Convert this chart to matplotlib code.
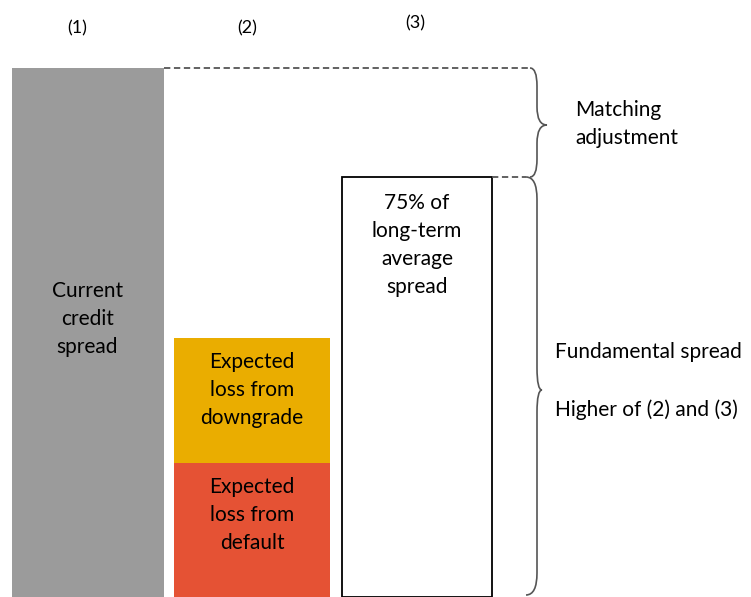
import matplotlib
matplotlib.use("Agg")
import matplotlib.pyplot as plt
from matplotlib.path import Path
from matplotlib.patches import PathPatch

plt.rcParams['font.family'] = ['Lato', 'DejaVu Sans']

# data (arbitrary spread units)
col_labels = ['(1)', '(2)', '(3)']
current_spread = 5.29
loss_default = 1.34
loss_downgrade = 1.25
lta_spread = 4.20

bar_text_1 = 'Current\ncredit\nspread'
bar_text_default = 'Expected\nloss from\ndefault'
bar_text_downgrade = 'Expected\nloss from\ndowngrade'
bar_text_3 = '75% of\nlong-term\naverage\nspread'

fig = plt.figure(figsize=(7.51, 5.97), dpi=100)
ax = fig.add_axes([0, 0, 1, 1])
ax.set_xlim(0, 7.51)
ax.set_ylim(0, 5.97)
ax.axis('off')

xpos = [0.875, 2.52, 4.17]
widths = [1.52, 1.56, 1.50]

ax.bar(xpos[0], current_spread, width=widths[0], color='#9b9b9b', zorder=2)
ax.bar(xpos[1], loss_default, width=widths[1], color='#e55234', zorder=2)
ax.bar(xpos[1], loss_downgrade, bottom=loss_default, width=widths[1], color='#eaad00', zorder=2)
ax.bar(xpos[2], lta_spread, width=widths[2], color='white', edgecolor='black', linewidth=1.3, zorder=2)

fs = 15
ls = 1.5
ax.text(xpos[0], 2.78, bar_text_1, ha='center', va='center', fontsize=fs, linespacing=ls)
ax.text(xpos[1], 0.82, bar_text_default, ha='center', va='center', fontsize=fs, linespacing=ls)
ax.text(xpos[1], 2.07, bar_text_downgrade, ha='center', va='center', fontsize=fs, linespacing=ls)
ax.text(xpos[2], 3.52, bar_text_3, ha='center', va='center', fontsize=fs, linespacing=ls)

# column numbers above
for x, lab, dy in zip([0.77, 2.47, 4.15], col_labels, [0, 0, 0.05]):
    ax.text(x, 5.69 + dy, lab, ha='center', va='center', fontsize=13)

# dashed connectors
ax.plot([xpos[0] + widths[0] / 2, 5.30], [current_spread, current_spread], ls='--', color='#555555', lw=1.3, dashes=(3.5, 2))
ax.plot([xpos[2] + widths[2] / 2, 5.26], [lta_spread, lta_spread], ls='--', color='#555555', lw=1.3, dashes=(3.5, 2))


def brace(xe, xm, xt, ytop, ybot, ymid, r):
    verts = [(xe, ytop), (xm, ytop), (xm, ytop - r),
             (xm, ymid + r), (xm, ymid), (xt, ymid),
             (xm, ymid), (xm, ymid - r),
             (xm, ybot + r), (xm, ybot), (xe, ybot)]
    codes = [Path.MOVETO, Path.CURVE3, Path.CURVE3,
             Path.LINETO, Path.CURVE3, Path.CURVE3,
             Path.CURVE3, Path.CURVE3,
             Path.LINETO, Path.CURVE3, Path.CURVE3]
    ax.add_patch(PathPatch(Path(verts, codes), fill=False, edgecolor='#555555', lw=1.2))


brace(5.30, 5.37, 5.47, current_spread, lta_spread, 4.72, 0.18)
brace(5.26, 5.37, 5.42, lta_spread, 0.02, 2.07, 0.22)

ax.text(5.75, 4.73, 'Matching\nadjustment', ha='left', va='center', fontsize=fs, linespacing=ls)
ax.text(5.55, 2.45, 'Fundamental spread', ha='left', va='center', fontsize=fs)
ax.text(5.55, 1.87, 'Higher of (2) and (3)', ha='left', va='center', fontsize=fs)

fig.savefig('out.png', dpi=100)
